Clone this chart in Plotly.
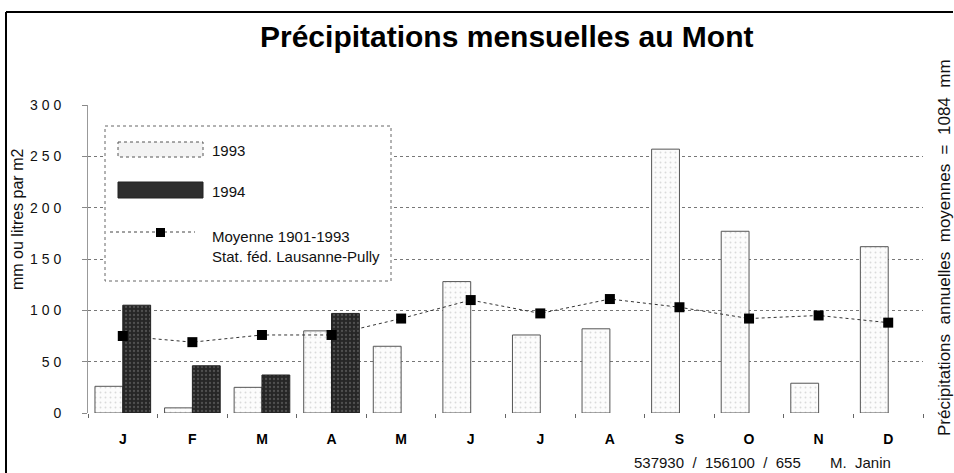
import plotly.graph_objects as go

months = ["J", "F", "M", "A", "M ", "J ", "J  ", "A ", "S", "O", "N", "D"]
month_labels = ["J", "F", "M", "A", "M", "J", "J", "A", "S", "O", "N", "D"]
rain_1993 = [26, 5, 25, 80, 65, 128, 76, 82, 257, 177, 29, 162]
rain_1994 = [105, 46, 37, 97, None, None, None, None, None, None, None, None]
mean_1901_1993 = [75, 69, 76, 76, 92, 110, 97, 111, 103, 92, 95, 88]
y_ticks = [0, 50, 100, 150, 200, 250, 300]

W, H = 954, 473
L, R, T, B = 88, 31, 105, 60
PW, PH = W - L - R, H - T - B


def px(x):
    return (x - L) / PW


def py(y):
    return (H - B - y) / PH


FONT = "Arial, Liberation Sans, Helvetica, sans-serif"

fig = go.Figure()
fig.add_trace(go.Bar(
    x=months, y=rain_1993, name="1993",
    marker=dict(color="#fbfbfb",
                line=dict(color="#555555", width=1),
                pattern=dict(shape=".", fgcolor="#b8b8b8", bgcolor="#fcfcfc", size=5, solidity=0.12)),
    showlegend=False,
))
fig.add_trace(go.Bar(
    x=months, y=rain_1994, name="1994",
    marker=dict(color="#262626",
                line=dict(color="#222222", width=1),
                pattern=dict(shape=".", fgcolor="#7a7a7a", bgcolor="#262626", size=4, solidity=0.25)),
    showlegend=False,
))
fig.add_trace(go.Scatter(
    x=months, y=mean_1901_1993, mode="lines+markers", name="Moyenne 1901-1993",
    line=dict(color="#333333", width=1, dash="dot"),
    marker=dict(symbol="square", size=10, color="#000000"),
    showlegend=False,
))

shapes = []
annotations = []
# outer frame (left and top)
shapes.append(dict(type="line", xref="paper", yref="paper", x0=px(6), x1=px(6), y0=py(12), y1=py(473),
                   line=dict(color="#000", width=2)))
shapes.append(dict(type="line", xref="paper", yref="paper", x0=px(6), x1=px(953), y0=py(12), y1=py(12),
                   line=dict(color="#000", width=2)))
# legend box
shapes.append(dict(type="rect", xref="paper", yref="paper", x0=px(105), x1=px(391), y0=py(126), y1=py(281),
                   fillcolor="white", line=dict(color="#666", width=1, dash="dot"), layer="above"))
shapes.append(dict(type="rect", xref="paper", yref="paper", x0=px(118), x1=px(203), y0=py(142), y1=py(157),
                   fillcolor="#f3f3f3", line=dict(color="#555", width=1, dash="dot"), layer="above"))
shapes.append(dict(type="rect", xref="paper", yref="paper", x0=px(118), x1=px(203), y0=py(182), y1=py(198),
                   fillcolor="#2e2e2e", line=dict(color="#222", width=1), layer="above"))
shapes.append(dict(type="line", xref="paper", yref="paper", x0=px(110), x1=px(195), y0=py(232), y1=py(232),
                   line=dict(color="#444", width=1, dash="dot"), layer="above"))
shapes.append(dict(type="rect", xref="paper", yref="paper", x0=px(156), x1=px(165), y0=py(228), y1=py(237),
                   fillcolor="#000", line=dict(color="#000", width=0), layer="above"))

leg_font = dict(family=FONT, size=15, color="#111")
for txt, y in [("1993", 150), ("1994", 191), ("Moyenne 1901-1993", 236), ("Stat. féd. Lausanne-Pully", 256)]:
    annotations.append(dict(text=txt, xref="paper", yref="paper", x=px(210), y=py(y), xanchor="left",
                            yanchor="middle", showarrow=False, font=leg_font))

annotations.append(dict(text="Précipitations mensuelles au Mont", xref="paper", yref="paper",
                        x=px(506), y=py(36), xanchor="center", yanchor="middle", showarrow=False,
                        font=dict(family=FONT, size=30, color="#000", weight="bold")))
annotations.append(dict(text="mm ou litres par m2", xref="paper", yref="paper", x=px(17), y=py(220),
                        xanchor="center", yanchor="middle", textangle=-90, showarrow=False,
                        font=dict(family=FONT, size=16, color="#111")))
annotations.append(dict(text="Précipitations  annuelles  moyennes  =  1084  mm", xref="paper", yref="paper",
                        x=px(944), y=py(248), xanchor="center", yanchor="middle", textangle=-90,
                        showarrow=False, font=dict(family=FONT, size=17, color="#111")))
annotations.append(dict(text="537930  /  156100  /  655       M.  Janin", xref="paper", yref="paper",
                        x=px(893), y=py(462), xanchor="right", yanchor="middle", showarrow=False,
                        font=dict(family=FONT, size=15, color="#111")))

fig.update_layout(
    width=W, height=H,
    margin=dict(l=L, r=R, t=T, b=B, autoexpand=False),
    paper_bgcolor="white", plot_bgcolor="white",
    barmode="group", bargap=0.2, bargroupgap=0,
    shapes=shapes, annotations=annotations,
    font=dict(family=FONT, size=13, color="#111"),
)
fig.update_xaxes(
    type="category", tickvals=months, ticktext=month_labels, range=[-0.5, 11.5],
    tickfont=dict(family=FONT, size=14, color="#000", weight="bold"),
    ticks="outside", tickson="boundaries", ticklen=4, tickcolor="#666",
    showgrid=False, showline=False, ticklabelstandoff=16,
)
fig.update_yaxes(
    range=[0, 300], tickvals=y_ticks, ticktext=[" ".join(str(v)) for v in y_ticks],
    showgrid=True, gridcolor="#777", griddash="dot", gridwidth=1,
    zeroline=False, showline=True, linecolor="#999", linewidth=1,
    ticks="outside", ticklen=5, tickcolor="#888",
    tickfont=dict(family=FONT, size=14, color="#111"), ticklabelstandoff=18,
)

fig.write_html("out.html", config={"displayModeBar": False},
               post_script="document.body.style.margin='0px';document.body.style.overflow='hidden';")
